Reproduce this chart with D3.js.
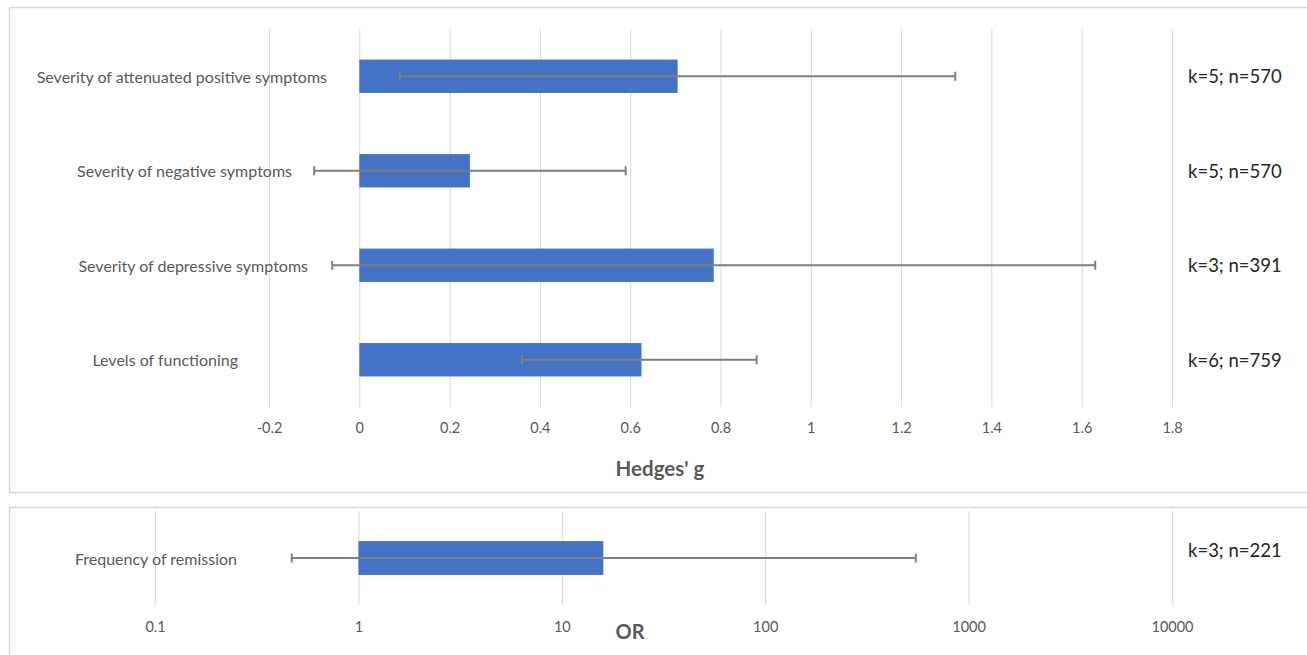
<!DOCTYPE html>
<html>
<head>
<meta charset="utf-8">
<script src="https://cdn.jsdelivr.net/npm/d3@7"></script>
<style>
  html, body { margin: 0; padding: 0; background: #ffffff; }
  svg { display: block; }
  text { font-family: Lato, "Open Sans", sans-serif; }
</style>
</head>
<body>
<svg id="chart" width="1307" height="655"></svg>
<script>
// ---- Data ----
const categories = [
  "Severity of attenuated positive symptoms",
  "Severity of negative symptoms",
  "Severity of depressive symptoms",
  "Levels of functioning"
];
const hedgesG = [0.705, 0.245, 0.785, 0.625];
const gLower  = [0.09, -0.10, -0.06, 0.36];
const gUpper  = [1.32, 0.59, 1.63, 0.88];
const gStudyInfo = ["k=5; n=570", "k=5; n=570", "k=3; n=391", "k=6; n=759"];
const gTickValues = [-0.2, 0, 0.2, 0.4, 0.6, 0.8, 1, 1.2, 1.4, 1.6, 1.8];
const gTickLabels = ["-0.2", "0", "0.2", "0.4", "0.6", "0.8", "1", "1.2", "1.4", "1.6", "1.8"];

const orCategories = ["Frequency of remission"];
const orValues = [16];
const orLower  = [0.47];
const orUpper  = [550];
const orStudyInfo = ["k=3; n=221"];
const orTickValues = [0.1, 1, 10, 100, 1000, 10000];
const orTickLabels = ["0.1", "1", "10", "100", "1000", "10000"];

// ---- Style ----
const BAR = "#4472C4", ERR = "#7f7f7f", GRID = "#d9d9d9", TXT = "#595959", DARK = "#262626";

const svg = d3.select("#chart");

// panel borders
svg.append("rect").attr("x", 9.5).attr("y", 7.5).attr("width", 1310).attr("height", 485)
  .attr("fill", "none").attr("stroke", GRID).attr("stroke-width", 1.5);
svg.append("rect").attr("x", 9.5).attr("y", 507.5).attr("width", 1310).attr("height", 160)
  .attr("fill", "none").attr("stroke", GRID).attr("stroke-width", 1.5);

// ---------- Top panel ----------
const x = d3.scaleLinear().domain([-0.2, 1.8]).range([269, 1172]);
const yTop = 29, yBot = 407;
const y = d3.scaleBand().domain(categories).range([yTop, yBot])
  .paddingInner(0.647).paddingOuter(0.3235);

// grid
svg.append("g").attr("transform", `translate(0,${yBot})`)
  .call(d3.axisBottom(x).tickValues(gTickValues).tickSize(-(yBot - yTop)).tickFormat(""))
  .call(g => g.select(".domain").remove())
  .call(g => g.selectAll("line").attr("stroke", GRID).attr("stroke-width", 1));

// tick labels
svg.append("g").attr("transform", `translate(0,${yBot})`)
  .call(d3.axisBottom(x).tickValues(gTickValues).tickSize(0).tickPadding(16)
    .tickFormat((d, i) => gTickLabels[i]))
  .call(g => g.select(".domain").remove())
  .call(g => g.selectAll("text").attr("fill", TXT).style("font-size", "14.5px")
    .style("font-family", "Lato, sans-serif"));

// bars
svg.append("g").selectAll("rect").data(categories).join("rect")
  .attr("x", (d, i) => x(Math.min(0, hedgesG[i])))
  .attr("y", d => y(d))
  .attr("width", (d, i) => Math.abs(x(hedgesG[i]) - x(0)))
  .attr("height", y.bandwidth())
  .attr("fill", BAR);

// error bars
const errG = svg.append("g").attr("stroke", ERR).attr("stroke-width", 2).attr("fill", "none");
categories.forEach((c, i) => {
  const cy = y(c) + y.bandwidth() / 2;
  errG.append("line").attr("x1", x(gLower[i])).attr("x2", x(gUpper[i])).attr("y1", cy).attr("y2", cy);
  errG.append("line").attr("x1", x(gLower[i])).attr("x2", x(gLower[i])).attr("y1", cy - 4.5).attr("y2", cy + 4.5);
  errG.append("line").attr("x1", x(gUpper[i])).attr("x2", x(gUpper[i])).attr("y1", cy - 4.5).attr("y2", cy + 4.5);
});

// category labels (right edge positions as in the reference)
const labelRight = [327, 292, 308, 238];
svg.append("g").selectAll("text").data(categories).join("text")
  .attr("x", (d, i) => labelRight[i])
  .attr("y", d => y(d) + y.bandwidth() / 2)
  .attr("text-anchor", "end").attr("dominant-baseline", "central")
  .attr("fill", TXT).style("font-size", "16px")
  .text(d => d);

// study info
svg.append("g").selectAll("text").data(categories).join("text")
  .attr("x", 1188)
  .attr("y", d => y(d) + y.bandwidth() / 2)
  .attr("dominant-baseline", "central")
  .attr("fill", DARK).style("font-size", "18.5px")
  .text((d, i) => gStudyInfo[i]);

// axis title
svg.append("text").attr("x", 660).attr("y", 468).attr("text-anchor", "middle")
  .attr("dominant-baseline", "central").attr("fill", TXT)
  .style("font-size", "20.5px").style("font-weight", "bold").text("Hedges' g");

// ---------- Bottom panel ----------
const xo = d3.scaleLog().domain([0.1, 10000]).range([155, 1172]);
const oTop = 511, oBot = 605;
const yo = d3.scaleBand().domain(orCategories).range([oTop, oBot])
  .paddingInner(0.64).paddingOuter(0.32);

svg.append("g").attr("transform", `translate(0,${oBot})`)
  .call(d3.axisBottom(xo).tickValues(orTickValues).tickSize(-(oBot - oTop)).tickFormat(""))
  .call(g => g.select(".domain").remove())
  .call(g => g.selectAll("line").attr("stroke", GRID).attr("stroke-width", 1));

svg.append("g").attr("transform", `translate(0,${oBot})`)
  .call(d3.axisBottom(xo).tickValues(orTickValues).tickSize(0).tickPadding(17)
    .tickFormat((d, i) => orTickLabels[i]))
  .call(g => g.select(".domain").remove())
  .call(g => g.selectAll("text").attr("fill", TXT).style("font-size", "14.5px")
    .style("font-family", "Lato, sans-serif"));

svg.append("g").selectAll("rect").data(orCategories).join("rect")
  .attr("x", (d, i) => xo(Math.min(1, orValues[i])))
  .attr("y", d => yo(d))
  .attr("width", (d, i) => Math.abs(xo(orValues[i]) - xo(1)))
  .attr("height", yo.bandwidth())
  .attr("fill", BAR);

const errO = svg.append("g").attr("stroke", ERR).attr("stroke-width", 2).attr("fill", "none");
orCategories.forEach((c, i) => {
  const cy = yo(c) + yo.bandwidth() / 2;
  errO.append("line").attr("x1", xo(orLower[i])).attr("x2", xo(orUpper[i])).attr("y1", cy).attr("y2", cy);
  errO.append("line").attr("x1", xo(orLower[i])).attr("x2", xo(orLower[i])).attr("y1", cy - 4.5).attr("y2", cy + 4.5);
  errO.append("line").attr("x1", xo(orUpper[i])).attr("x2", xo(orUpper[i])).attr("y1", cy - 4.5).attr("y2", cy + 4.5);
});

svg.append("g").selectAll("text").data(orCategories).join("text")
  .attr("x", 237)
  .attr("y", d => yo(d) + yo.bandwidth() / 2)
  .attr("text-anchor", "end").attr("dominant-baseline", "central")
  .attr("fill", TXT).style("font-size", "16px")
  .text(d => d);

svg.append("g").selectAll("text").data(orCategories).join("text")
  .attr("x", 1188)
  .attr("y", d => yo(d) + yo.bandwidth() / 2 - 8)
  .attr("dominant-baseline", "central")
  .attr("fill", DARK).style("font-size", "18.5px")
  .text((d, i) => orStudyInfo[i]);

svg.append("text").attr("x", 630).attr("y", 631).attr("text-anchor", "middle")
  .attr("dominant-baseline", "central").attr("fill", TXT)
  .style("font-size", "20px").style("font-weight", "bold").text("OR");
</script>
</body>
</html>
